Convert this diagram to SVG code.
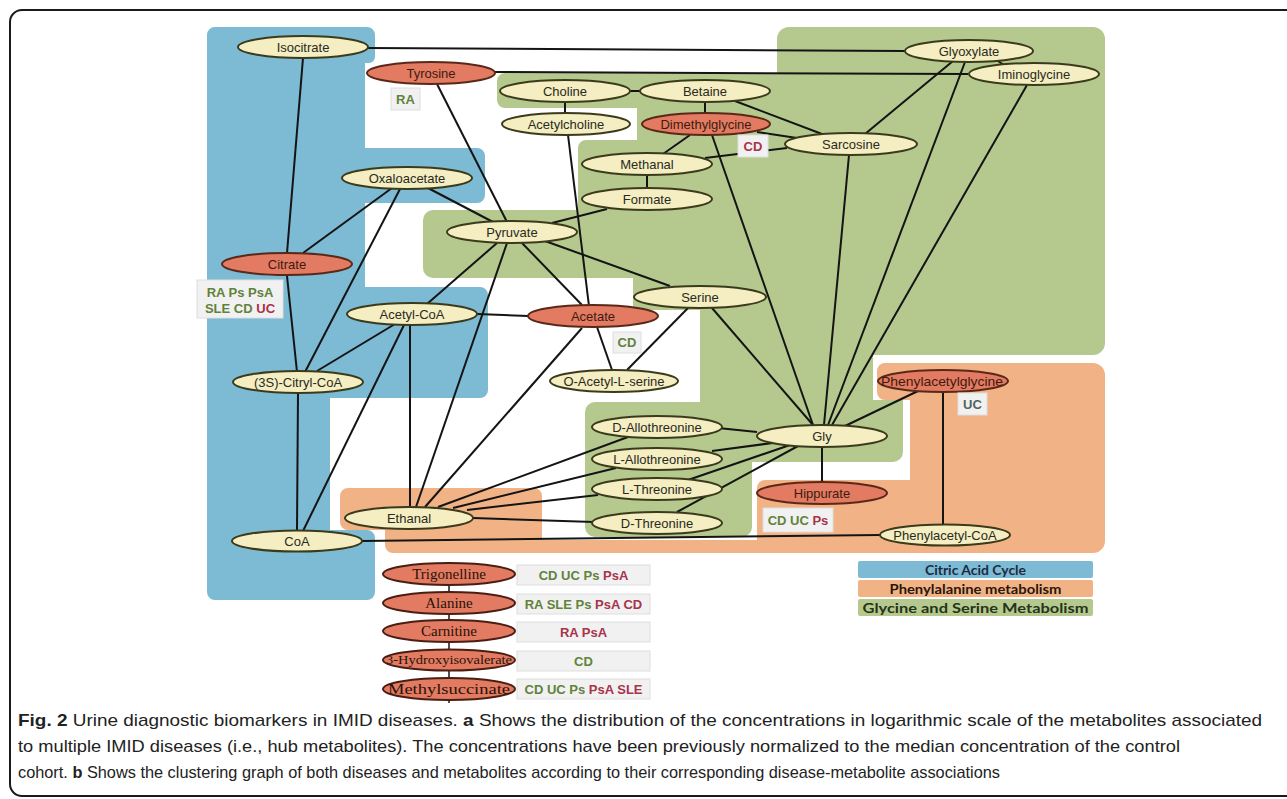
<svg xmlns="http://www.w3.org/2000/svg" width="1287" height="799" viewBox="0 0 1287 799">
<defs>
<style>
.frame{fill:#fff;stroke:#1a1a1a;stroke-width:2}
.blue{fill:#7dbad3}
.green{fill:#b5c98f}
.orange{fill:#f1b386}
.e line,.e path{stroke:#141414;stroke-width:2;fill:none}
.n ellipse{fill:#f4eec2;stroke:#3b3b1c;stroke-width:2}
.r ellipse{fill:#e27b61;stroke:#5a2819;stroke-width:2}
.n text,.r text{font-family:"Liberation Sans",Arial,sans-serif;font-size:13px;text-anchor:middle}
.n text{fill:#2a2a20}
.r text{fill:#3e1a10}
.s ellipse{fill:#e27b61;stroke:#4a1e12;stroke-width:2}
.s text{font-family:"Liberation Serif","Times New Roman",serif;font-size:15px;text-anchor:middle;fill:#2a1208}
.lb rect{fill:#f1f1f1;stroke:#dedede;stroke-width:1}
.lb text{font-family:"Liberation Sans",Arial,sans-serif;font-size:13px;font-weight:bold;text-anchor:middle}
.g{fill:#61823a}
.rd{fill:#a8334a}
.lg text{font-family:Lato,"Open Sans",sans-serif;font-size:14px;font-weight:bold;text-anchor:middle}
.cap{font-family:"Liberation Sans",Arial,sans-serif;font-size:17px;fill:#222}
.cap .b{font-weight:bold}
</style>
</defs>
<rect class="frame" x="10" y="10" width="1300" height="786" rx="12"/>

<g id="regions">
<path class="orange" d="M885,363 H1093 A12,12 0 0 1 1105,375 V541 A12,12 0 0 1 1093,553 H393 A8,8 0 0 1 385,545 V530 H348 A8,8 0 0 1 340,522 V496 A8,8 0 0 1 348,488 H534 A8,8 0 0 1 542,496 V540 H757 V488 A8,8 0 0 1 765,480 H910 V400 H885 A8,8 0 0 1 877,392 V371 A8,8 0 0 1 885,363 Z"/>
<path class="green" d="M789,27 H1093 A12,12 0 0 1 1105,39 V343 A12,12 0 0 1 1093,355 H873 V400 H903 V452 A10,10 0 0 1 893,462 H752 V527 A10,10 0 0 1 742,537 H595 A10,10 0 0 1 585,527 V412 A10,10 0 0 1 595,402 H700 V310 H633 V278 H433 A10,10 0 0 1 423,268 V220 A10,10 0 0 1 433,210 H578 V148 A8,8 0 0 1 586,140 H637 V108 H505 A8,8 0 0 1 497,100 V81 A8,8 0 0 1 505,73 H777 V39 A12,12 0 0 1 789,27 Z"/>
<path class="blue" d="M215,27 H367 A8,8 0 0 1 375,35 V57 A6,6 0 0 1 369,63 H365 V148 H477 A8,8 0 0 1 485,156 V195 A8,8 0 0 1 477,203 H365 V287 H480 A8,8 0 0 1 488,295 V390 A8,8 0 0 1 480,398 H330 V530 H367 A8,8 0 0 1 375,538 V592 A8,8 0 0 1 367,600 H215 A8,8 0 0 1 207,592 V35 A8,8 0 0 1 215,27 Z"/>
</g>

<g id="connectors" class="e">
<line x1="368" y1="48" x2="905" y2="51"/>
<line x1="303" y1="58" x2="287" y2="253"/>
<line x1="495" y1="72" x2="968" y2="74"/>
<line x1="437" y1="84" x2="507" y2="222"/>
<line x1="630" y1="91" x2="640" y2="91"/>
<line x1="565" y1="102" x2="565" y2="113"/>
<line x1="568" y1="135" x2="589" y2="306"/>
<line x1="705" y1="102" x2="705" y2="113"/>
<line x1="735" y1="101" x2="822" y2="134"/>
<line x1="757" y1="132" x2="797" y2="138"/>
<line x1="705" y1="158" x2="787" y2="148"/>
<line x1="690" y1="135" x2="663" y2="154"/>
<line x1="712" y1="135" x2="813" y2="425"/>
<line x1="865" y1="134" x2="953" y2="61"/>
<line x1="849" y1="155" x2="824" y2="425"/>
<line x1="965" y1="62" x2="828" y2="425"/>
<line x1="998" y1="61" x2="1004" y2="65"/>
<line x1="1027" y1="85" x2="832" y2="425"/>
<line x1="392" y1="188" x2="303" y2="253"/>
<line x1="400" y1="189" x2="305" y2="372"/>
<line x1="428" y1="188" x2="493" y2="222"/>
<line x1="607" y1="209" x2="552" y2="223"/>
<line x1="647" y1="175" x2="647" y2="188"/>
<line x1="497" y1="243" x2="427" y2="304"/>
<line x1="507" y1="243" x2="416" y2="507"/>
<line x1="522" y1="243" x2="582" y2="305"/>
<line x1="545" y1="241" x2="670" y2="286"/>
<line x1="477" y1="314" x2="528" y2="316"/>
<line x1="395" y1="324" x2="317" y2="371"/>
<line x1="404" y1="325" x2="303" y2="531"/>
<line x1="410" y1="325" x2="410" y2="507"/>
<line x1="287" y1="276" x2="297" y2="372"/>
<line x1="298" y1="393" x2="297" y2="531"/>
<line x1="597" y1="327" x2="612" y2="370"/>
<line x1="688" y1="308" x2="627" y2="370"/>
<line x1="712" y1="308" x2="813" y2="425"/>
<line x1="918" y1="391" x2="845" y2="426"/>
<line x1="943" y1="392" x2="943" y2="525"/>
<line x1="822" y1="447" x2="822" y2="482"/>
<line x1="718" y1="428" x2="757" y2="432"/>
<line x1="712" y1="451" x2="780" y2="442"/>
<line x1="688" y1="480" x2="790" y2="445"/>
<line x1="677" y1="512" x2="798" y2="446"/>
<line x1="438" y1="507" x2="628" y2="437"/>
<line x1="453" y1="508" x2="616" y2="468"/>
<line x1="467" y1="510" x2="598" y2="495"/>
<line x1="473" y1="518" x2="594" y2="522"/>
<line x1="362" y1="541" x2="880" y2="535"/>
<line x1="582" y1="328" x2="425" y2="507"/>
<line x1="449" y1="580" x2="449" y2="703" style="stroke-width:1.5"/>
</g>

<g id="isocitrate" class="n"><ellipse cx="303" cy="47" rx="65" ry="11"/><text x="303" y="51.5">Isocitrate</text></g>
<g id="tyrosine" class="r"><ellipse cx="431" cy="73" rx="64" ry="11"/><text x="431" y="77.5">Tyrosine</text></g>
<g id="choline" class="n"><ellipse cx="565" cy="91" rx="65" ry="11"/><text x="565" y="95.5">Choline</text></g>
<g id="acetylcholine" class="n"><ellipse cx="566" cy="124" rx="64" ry="11"/><text x="566" y="128.5">Acetylcholine</text></g>
<g id="betaine" class="n"><ellipse cx="705" cy="91" rx="65" ry="11"/><text x="705" y="95.5">Betaine</text></g>
<g id="dimethylglycine" class="r"><ellipse cx="706" cy="124" rx="64" ry="11"/><text x="706" y="128.5">Dimethylglycine</text></g>
<g id="sarcosine" class="n"><ellipse cx="851" cy="144" rx="66" ry="11"/><text x="851" y="148.5">Sarcosine</text></g>
<g id="methanal" class="n"><ellipse cx="647" cy="164" rx="65" ry="11"/><text x="647" y="168.5">Methanal</text></g>
<g id="formate" class="n"><ellipse cx="647" cy="199" rx="65" ry="11"/><text x="647" y="203.5">Formate</text></g>
<g id="glyoxylate" class="n"><ellipse cx="969" cy="51" rx="64" ry="11"/><text x="969" y="55.5">Glyoxylate</text></g>
<g id="iminoglycine" class="n"><ellipse cx="1034" cy="74" rx="65" ry="11"/><text x="1034" y="78.5">Iminoglycine</text></g>
<g id="oxaloacetate" class="n"><ellipse cx="407" cy="178" rx="65" ry="11"/><text x="407" y="182.5">Oxaloacetate</text></g>
<g id="pyruvate" class="n"><ellipse cx="512" cy="232" rx="65" ry="11"/><text x="512" y="236.5">Pyruvate</text></g>
<g id="citrate" class="r"><ellipse cx="287" cy="264" rx="65" ry="11"/><text x="287" y="268.5">Citrate</text></g>
<g id="acetyl-coa" class="n"><ellipse cx="412" cy="314" rx="65" ry="11"/><text x="412" y="318.5">Acetyl-CoA</text></g>
<g id="acetate" class="r"><ellipse cx="593" cy="316" rx="65" ry="11"/><text x="593" y="320.5">Acetate</text></g>
<g id="serine" class="n"><ellipse cx="700" cy="297" rx="66" ry="11"/><text x="700" y="301.5">Serine</text></g>
<g id="o-acetyl-l-serine" class="n"><ellipse cx="614" cy="381" rx="64" ry="11"/><text x="614" y="385.5">O-Acetyl-L-serine</text></g>
<g id="citryl-coa" class="n"><ellipse cx="298" cy="382" rx="65" ry="11"/><text x="298" y="386.5">(3S)-Citryl-CoA</text></g>
<g id="phenylacetylglycine" class="r"><ellipse cx="943" cy="381" rx="65" ry="11"/><text x="942" y="385.5" textLength="122" lengthAdjust="spacingAndGlyphs">Phenylacetylglycine</text></g>
<g id="gly" class="n"><ellipse cx="822" cy="436" rx="65" ry="11"/><text x="822" y="440.5">Gly</text></g>
<g id="d-allothreonine" class="n"><ellipse cx="657" cy="427" rx="65" ry="11"/><text x="657" y="431.5">D-Allothreonine</text></g>
<g id="l-allothreonine" class="n"><ellipse cx="657" cy="459" rx="65" ry="11"/><text x="657" y="463.5">L-Allothreonine</text></g>
<g id="l-threonine" class="n"><ellipse cx="657" cy="489" rx="65" ry="11"/><text x="657" y="493.5">L-Threonine</text></g>
<g id="d-threonine" class="n"><ellipse cx="657" cy="523" rx="65" ry="11"/><text x="657" y="527.5">D-Threonine</text></g>
<g id="hippurate" class="r"><ellipse cx="822" cy="493" rx="65" ry="11"/><text x="822" y="497.5">Hippurate</text></g>
<g id="phenylacetyl-coa" class="n"><ellipse cx="945" cy="535" rx="65" ry="10.5"/><text x="945" y="539.5">Phenylacetyl-CoA</text></g>
<g id="ethanal" class="n"><ellipse cx="409" cy="518" rx="64" ry="11"/><text x="409" y="522.5">Ethanal</text></g>
<g id="coa" class="n"><ellipse cx="297" cy="541" rx="65" ry="10.5"/><text x="297" y="545.5">CoA</text></g>

<g id="label-tyrosine" class="lb"><rect x="391" y="88" width="29" height="22"/><text x="405.5" y="104" class="g">RA</text></g>
<g id="label-dimethylglycine" class="lb"><rect x="738" y="135" width="30" height="22"/><text x="753" y="151" class="rd">CD</text></g>
<g id="label-citrate" class="lb"><rect x="197" y="280" width="86" height="38"/><text x="240" y="297" class="g">RA Ps PsA</text><text x="240" y="313"><tspan class="g">SLE CD </tspan><tspan class="rd">UC</tspan></text></g>
<g id="label-acetate" class="lb"><rect x="613" y="332" width="28" height="21"/><text x="627" y="347" class="g">CD</text></g>
<g id="label-phenylacetylglycine" class="lb"><rect x="958" y="393" width="29" height="22"/><text x="972.5" y="409" style="fill:#4f6660">UC</text></g>
<g id="label-hippurate" class="lb"><rect x="763" y="508" width="70" height="24"/><text x="798" y="525"><tspan class="g">CD UC </tspan><tspan class="rd">Ps</tspan></text></g>

<g id="trigonelline" class="s"><ellipse cx="449" cy="574" rx="66" ry="11"/><text x="449" y="579">Trigonelline</text></g>
<g id="alanine" class="s"><ellipse cx="449" cy="603" rx="66" ry="11"/><text x="449" y="608">Alanine</text></g>
<g id="carnitine" class="s"><ellipse cx="449" cy="631" rx="66" ry="11"/><text x="449" y="636">Carnitine</text></g>
<g id="hydroxyisovalerate" class="s"><ellipse cx="449" cy="660" rx="66" ry="10.5"/><text x="449" y="664" style="font-size:12px" textLength="126" lengthAdjust="spacingAndGlyphs">3-Hydroxyisovalerate</text></g>
<g id="methylsuccinate" class="s"><ellipse cx="449" cy="689" rx="66" ry="11"/><text x="449" y="694" textLength="122" lengthAdjust="spacingAndGlyphs">Methylsuccinate</text></g>

<g id="label-trigonelline" class="lb"><rect x="517" y="565" width="133" height="20"/><text x="583.5" y="580"><tspan class="g">CD UC Ps </tspan><tspan class="rd">PsA</tspan></text></g>
<g id="label-alanine" class="lb"><rect x="517" y="594" width="133" height="20"/><text x="583.5" y="609"><tspan class="g">RA SLE Ps </tspan><tspan class="rd">PsA CD</tspan></text></g>
<g id="label-carnitine" class="lb"><rect x="517" y="622" width="133" height="20"/><text x="583.5" y="637" class="rd">RA PsA</text></g>
<g id="label-hydroxyisovalerate" class="lb"><rect x="517" y="651" width="133" height="20"/><text x="583.5" y="666" class="g">CD</text></g>
<g id="label-methylsuccinate" class="lb"><rect x="517" y="679" width="133" height="20"/><text x="583.5" y="694"><tspan class="g">CD UC Ps </tspan><tspan class="rd">PsA SLE</tspan></text></g>

<g id="legend" class="lg">
<rect x="858" y="561" width="235" height="17" rx="2" fill="#7dbad3"/>
<text x="975.5" y="574.5" fill="#1c2a45" textLength="101" lengthAdjust="spacingAndGlyphs">Citric Acid Cycle</text>
<rect x="858" y="580" width="235" height="17" rx="2" fill="#f1b386"/>
<text x="975.5" y="593.5" fill="#2a1608" textLength="172" lengthAdjust="spacingAndGlyphs">Phenylalanine metabolism</text>
<rect x="858" y="599" width="235" height="17" rx="2" fill="#b5c98f"/>
<text x="975.5" y="612.5" fill="#25331a" textLength="226" lengthAdjust="spacingAndGlyphs">Glycine and Serine Metabolism</text>
</g>

<g id="caption" class="cap">
<text x="18" y="726" textLength="1244" lengthAdjust="spacingAndGlyphs"><tspan class="b">Fig. 2</tspan> Urine diagnostic biomarkers in IMID diseases. <tspan class="b">a</tspan> Shows the distribution of the concentrations in logarithmic scale of the metabolites associated</text>
<text x="18" y="752" textLength="1162" lengthAdjust="spacingAndGlyphs">to multiple IMID diseases (i.e., hub metabolites). The concentrations have been previously normalized to the median concentration of the control</text>
<text x="18" y="778" textLength="982" lengthAdjust="spacingAndGlyphs">cohort. <tspan class="b">b</tspan> Shows the clustering graph of both diseases and metabolites according to their corresponding disease-metabolite associations</text>
</g>
</svg>
